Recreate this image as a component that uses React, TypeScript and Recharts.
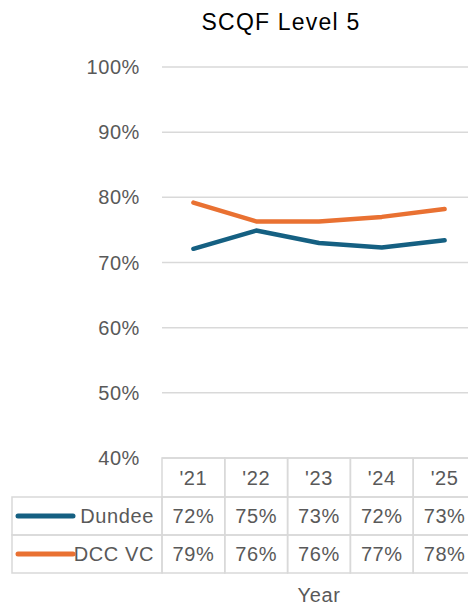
import React from "react";
import { LineChart, Line, XAxis, YAxis, CartesianGrid } from "recharts";

const years = ["'21", "'22", "'23", "'24", "'25"];
const dundee = [72.1, 74.9, 73.0, 72.3, 73.4];
const dccVc = [79.2, 76.3, 76.3, 77.0, 78.2];
const dundeeLabels = ["72%", "75%", "73%", "72%", "73%"];
const dccVcLabels = ["79%", "76%", "76%", "77%", "78%"];
const yTicks = [40, 50, 60, 70, 80, 90, 100];

const series = [
  { key: "dundee", name: "Dundee", color: "#156082", labels: dundeeLabels },
  { key: "dccVc", name: "DCC VC", color: "#E97132", labels: dccVcLabels },
];

const data = years.map((year, i) => ({ year, dundee: dundee[i], dccVc: dccVc[i] }));

const CHART_W = 476;
const PLOT_LEFT = 162;
const BAND = (CHART_W - PLOT_LEFT) / years.length;
const GRID = "#d9d9d9";
const TEXT = "#595959";
const FONT = "'Liberation Sans', Arial, sans-serif";

// table rows under the plot (y positions in svg coords)
const ROW_TOP = [458, 497, 535];
const ROW_BOTTOM = 573;

function TableTick(props: any) {
  const { x, payload } = props;
  const i = payload.index;
  const left = x - BAND / 2;
  const textProps = {
    fontFamily: FONT,
    fontSize: 20,
    letterSpacing: 0.6,
    fill: TEXT,
  };
  return (
    <g>
      <rect x={left} y={ROW_TOP[0]} width={BAND} height={ROW_TOP[1] - ROW_TOP[0]} fill="none" stroke={GRID} strokeWidth={1.5} />
      <text x={x} y={485} textAnchor="middle" {...textProps}>{payload.value}</text>
      {series.map((s, r) => {
        const top = ROW_TOP[r + 1];
        const bottom = r + 2 < ROW_TOP.length ? ROW_TOP[r + 2] : ROW_BOTTOM;
        return (
          <g key={s.key}>
            <rect x={left} y={top} width={BAND} height={bottom - top} fill="none" stroke={GRID} strokeWidth={1.5} />
            <text x={x} y={top + 26} textAnchor="middle" {...textProps}>{s.labels[i]}</text>
            {i === 0 && (
              <g>
                <rect x={12} y={top} width={left - 12} height={bottom - top} fill="none" stroke={GRID} strokeWidth={1.5} />
                <line x1={18} x2={73} y1={(top + bottom) / 2} y2={(top + bottom) / 2} stroke={s.color} strokeWidth={5} strokeLinecap="round" />
                <text x={154} y={top + 26} textAnchor="end" {...textProps}>{s.name}</text>
              </g>
            )}
          </g>
        );
      })}
    </g>
  );
}

export default function App() {
  return (
    <div style={{ position: "absolute", left: 0, top: 0, width: 468, height: 608, overflow: "hidden", background: "#fff" }}>
      <div
        style={{
          position: "absolute",
          left: 131,
          top: 11,
          width: 300,
          textAlign: "center",
          fontFamily: FONT,
          fontSize: 23,
          lineHeight: "23px",
          letterSpacing: 1.2,
          color: "#000",
        }}
      >
        SCQF Level 5
      </div>
      <LineChart width={CHART_W} height={608} data={data} margin={{ top: 67, right: 0, bottom: 0, left: 0 }}>
        <CartesianGrid vertical={false} stroke={GRID} strokeWidth={1.5} />
        <XAxis
          dataKey="year"
          scale="band"
          height={150}
          axisLine={false}
          tickLine={false}
          interval={0}
          tick={(p: any) => <TableTick {...p} />}
          label={{ value: "Year", position: "insideBottom", offset: 6, fill: TEXT, fontSize: 20, fontFamily: FONT, letterSpacing: 0.6 }}
        />
        <YAxis
          domain={[40, 100]}
          ticks={yTicks}
          width={PLOT_LEFT}
          axisLine={false}
          tickLine={false}
          tickSize={0}
          tickMargin={22}
          tickFormatter={(v) => `${v}%`}
          tick={{ fill: TEXT, fontSize: 20, fontFamily: FONT, letterSpacing: 0.6 }}
        />
        {series.map((s) => (
          <Line
            key={s.key}
            dataKey={s.key}
            name={s.name}
            stroke={s.color}
            strokeWidth={4.5}
            strokeLinecap="round"
            strokeLinejoin="round"
            dot={false}
            activeDot={false}
            isAnimationActive={false}
          />
        ))}
      </LineChart>
    </div>
  );
}
